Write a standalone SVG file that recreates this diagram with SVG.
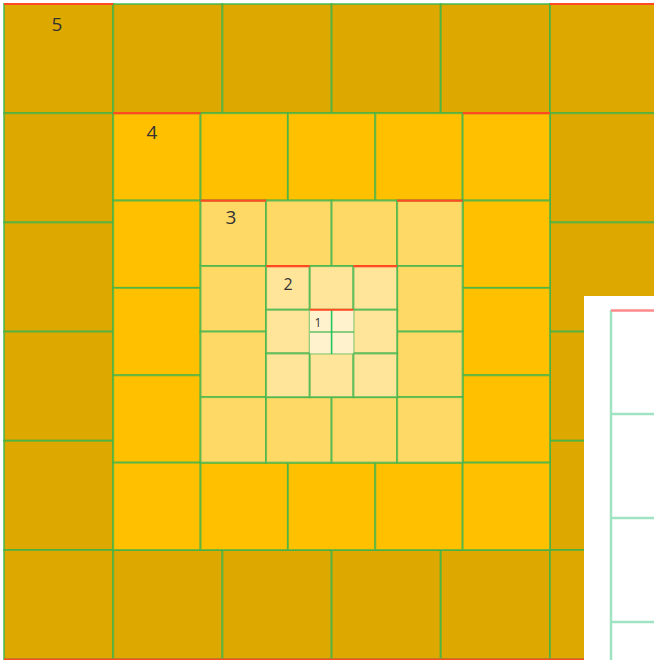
<svg xmlns="http://www.w3.org/2000/svg" width="654" height="660" viewBox="0 0 654 660">
<style>
.c{stroke:#3cb44b;stroke-opacity:0.7;stroke-width:2}
.r5{fill:#DDA800}
.r4{fill:#FFC000}
.r3{fill:#FFD966}
.r2{fill:#FFE599}
.r1{fill:#FFF2CC}
.red{stroke:#ff4a22;stroke-width:2.2;fill:none}
.lbl{font-family:"Open Sans","Noto Sans",sans-serif;fill:#333;text-anchor:middle}
.pg{stroke:#9fe3c2;stroke-width:2.5;fill:none}
</style>
<rect width="654" height="660" fill="#fff"/>
<g id="ring5">
<rect class="c r5" x="4" y="4" width="109.2" height="109.2"/>
<rect class="c r5" x="113.2" y="4" width="109.2" height="109.2"/>
<rect class="c r5" x="222.4" y="4" width="109.2" height="109.2"/>
<rect class="c r5" x="331.6" y="4" width="109.2" height="109.2"/>
<rect class="c r5" x="440.8" y="4" width="109.2" height="109.2"/>
<rect class="c r5" x="550" y="4" width="109.2" height="109.2"/>
<rect class="c r5" x="4" y="113.2" width="109.2" height="109.2"/>
<rect class="c r5" x="4" y="222.4" width="109.2" height="109.2"/>
<rect class="c r5" x="4" y="331.6" width="109.2" height="109.2"/>
<rect class="c r5" x="4" y="440.8" width="109.2" height="109.2"/>
<rect class="c r5" x="550" y="113.2" width="109.2" height="109.2"/>
<rect class="c r5" x="550" y="222.4" width="109.2" height="109.2"/>
<rect class="c r5" x="550" y="331.6" width="109.2" height="109.2"/>
<rect class="c r5" x="550" y="440.8" width="109.2" height="109.2"/>
<rect class="c r5" x="4" y="550" width="109.2" height="109.2"/>
<rect class="c r5" x="113.2" y="550" width="109.2" height="109.2"/>
<rect class="c r5" x="222.4" y="550" width="109.2" height="109.2"/>
<rect class="c r5" x="331.6" y="550" width="109.2" height="109.2"/>
<rect class="c r5" x="440.8" y="550" width="109.2" height="109.2"/>
<rect class="c r5" x="550" y="550" width="109.2" height="109.2"/>
<text class="lbl" x="57" y="31" font-size="19">5</text>
</g>
<g id="ring4">
<rect class="c r4" x="113.2" y="113.2" width="87.36" height="87.36"/>
<rect class="c r4" x="200.56" y="113.2" width="87.36" height="87.36"/>
<rect class="c r4" x="287.92" y="113.2" width="87.36" height="87.36"/>
<rect class="c r4" x="375.28" y="113.2" width="87.36" height="87.36"/>
<rect class="c r4" x="462.64" y="113.2" width="87.36" height="87.36"/>
<rect class="c r4" x="113.2" y="200.56" width="87.36" height="87.36"/>
<rect class="c r4" x="113.2" y="287.92" width="87.36" height="87.36"/>
<rect class="c r4" x="113.2" y="375.28" width="87.36" height="87.36"/>
<rect class="c r4" x="462.64" y="200.56" width="87.36" height="87.36"/>
<rect class="c r4" x="462.64" y="287.92" width="87.36" height="87.36"/>
<rect class="c r4" x="462.64" y="375.28" width="87.36" height="87.36"/>
<rect class="c r4" x="113.2" y="462.64" width="87.36" height="87.36"/>
<rect class="c r4" x="200.56" y="462.64" width="87.36" height="87.36"/>
<rect class="c r4" x="287.92" y="462.64" width="87.36" height="87.36"/>
<rect class="c r4" x="375.28" y="462.64" width="87.36" height="87.36"/>
<rect class="c r4" x="462.64" y="462.64" width="87.36" height="87.36"/>
<text class="lbl" x="152" y="139" font-size="19">4</text>
</g>
<g id="ring3">
<rect class="c r3" x="200.56" y="200.56" width="65.52" height="65.52"/>
<rect class="c r3" x="266.08" y="200.56" width="65.52" height="65.52"/>
<rect class="c r3" x="331.6" y="200.56" width="65.52" height="65.52"/>
<rect class="c r3" x="397.12" y="200.56" width="65.52" height="65.52"/>
<rect class="c r3" x="200.56" y="266.08" width="65.52" height="65.52"/>
<rect class="c r3" x="200.56" y="331.6" width="65.52" height="65.52"/>
<rect class="c r3" x="397.12" y="266.08" width="65.52" height="65.52"/>
<rect class="c r3" x="397.12" y="331.6" width="65.52" height="65.52"/>
<rect class="c r3" x="200.56" y="397.12" width="65.52" height="65.52"/>
<rect class="c r3" x="266.08" y="397.12" width="65.52" height="65.52"/>
<rect class="c r3" x="331.6" y="397.12" width="65.52" height="65.52"/>
<rect class="c r3" x="397.12" y="397.12" width="65.52" height="65.52"/>
<text class="lbl" x="231" y="224" font-size="19">3</text>
</g>
<g id="ring2">
<rect class="c r2" x="266.08" y="266.08" width="43.68" height="43.68"/>
<rect class="c r2" x="309.76" y="266.08" width="43.68" height="43.68"/>
<rect class="c r2" x="353.44" y="266.08" width="43.68" height="43.68"/>
<rect class="c r2" x="266.08" y="309.76" width="43.68" height="43.68"/>
<rect class="c r2" x="353.44" y="309.76" width="43.68" height="43.68"/>
<rect class="c r2" x="266.08" y="353.44" width="43.68" height="43.68"/>
<rect class="c r2" x="309.76" y="353.44" width="43.68" height="43.68"/>
<rect class="c r2" x="353.44" y="353.44" width="43.68" height="43.68"/>
<text class="lbl" x="288" y="290" font-size="16">2</text>
</g>
<g id="ring1">
<rect class="r1" x="309.76" y="309.76" width="43.68" height="43.68"/>
<line x1="310" y1="332" x2="354" y2="332" stroke="#3cb44b" stroke-opacity="0.6" stroke-width="2"/>
<line x1="331.6" y1="310" x2="331.6" y2="354" stroke="#22c55e" stroke-width="1.6"/>
<text class="lbl" x="318" y="327" font-size="12">1</text>
</g>
<g id="connectors">
<path class="red" d="M4 4H113.2M550 4H654M113.2 113.2H200.56M462.64 113.2H550M200.56 200.56H266.08M397.12 200.56H462.64M266.08 266.08H309.76M353.44 266.08H397.12M309.76 309.76H353.44M4 659.5H584"/>
</g>
<g id="panel">
<rect x="584" y="296" width="70" height="364" fill="#fff"/>
<path class="pg" d="M611 310V660M611 414H654M611 518H654M611 622H654"/>
<line x1="611" y1="310.5" x2="654" y2="310.5" stroke="#ff8a8a" stroke-width="2.5"/>
</g>
</svg>
